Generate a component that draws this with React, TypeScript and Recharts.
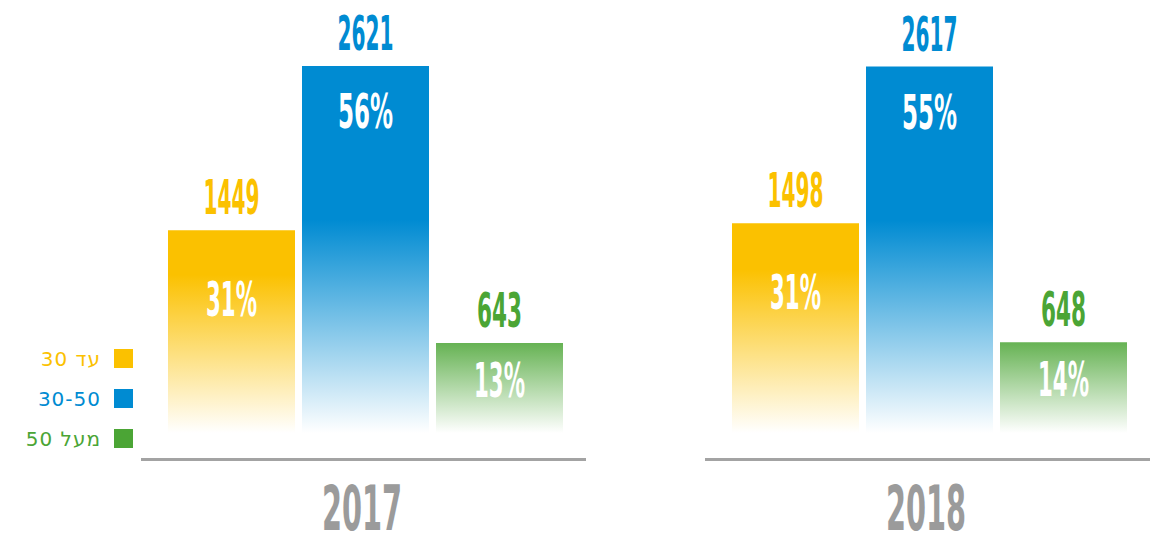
import React from 'react';
import { BarChart, Bar, XAxis, YAxis, LabelList } from 'recharts';

// ---- data ----
const years = ['2017', '2018'];
const seriesNames = ['עד 30', '30-50', 'מעל 50'];
const upTo30 = [1449, 1498];
const from30to50 = [2621, 2617];
const over50 = [643, 648];
const upTo30Pct = ['31%', '31%'];
const from30to50Pct = ['56%', '55%'];
const over50Pct = ['13%', '14%'];

// ---- style ----
const seriesKeys = ['upTo30', 'from30to50', 'over50'];
const colors = ['#FBC100', '#008BD2', '#4BA535'];
const gradStops = [
  [[0, 1], [0.22, 1], [1, 0]],
  [[0, 1], [0.42, 1], [1, 0]],
  [[0, 0.85], [1, 0]],
];
const pctOffset = [86, 62, 54];
const condensedFont = '"Liberation Sans Narrow", "DejaVu Sans Condensed", "Liberation Sans", sans-serif';

const textW = (s: string, k: number) =>
  s.split('').reduce((a, c) => a + (c === '1' ? 11 : c === '%' ? 25 : 15), 0) * k;

const rows = years.map((y, i) => ({
  year: y,
  upTo30: upTo30[i],
  from30to50: from30to50[i],
  over50: over50[i],
  upTo30Pct: upTo30Pct[i],
  from30to50Pct: from30to50Pct[i],
  over50Pct: over50Pct[i],
}));

const makeValueLabel = (color: string) => (props: any) => {
  const { x, y, width, value } = props;
  const cx = Number(x) + Number(width) / 2;
  const s = String(value);
  return (
    <text
      x={cx}
      y={Number(y) - 16}
      textAnchor="middle"
      fill={color}
      fontFamily={condensedFont}
      fontWeight="bold"
      fontSize={48}
      textLength={textW(s, 1)}
      lengthAdjust="spacingAndGlyphs"
    >
      {s}
    </text>
  );
};

const makePctLabel = (off: number) => (props: any) => {
  const { x, y, width, value } = props;
  const cx = Number(x) + Number(width) / 2;
  const s = String(value);
  return (
    <text
      x={cx}
      y={Number(y) + off}
      textAnchor="middle"
      fill="#FFFFFF"
      fontFamily={condensedFont}
      fontWeight="bold"
      fontSize={48}
      textLength={textW(s, 1)}
      lengthAdjust="spacingAndGlyphs"
    >
      {s}
    </text>
  );
};

const YearTick = (props: any) => {
  const { x, y, payload } = props;
  const s = String(payload.value);
  return (
    <g>
      <rect x={x - 224} y={y + 25} width={445} height={3} fill="#A3A3A3" />
      <text
        x={x - 3}
        y={y + 97}
        textAnchor="middle"
        fill="#9B9B9B"
        fontFamily={condensedFont}
        fontWeight="bold"
        fontSize={63}
        textLength={textW(s, 1.43)}
        lengthAdjust="spacingAndGlyphs"
      >
        {s}
      </text>
    </g>
  );
};

const YearChart = ({ idx, width, marginLeft }: { idx: number; width: number; marginLeft: number }) => (
  <BarChart
    width={width}
    height={545}
    data={[rows[idx]]}
    margin={{ top: 13, right: width - marginLeft - 444, left: marginLeft, bottom: 0 }}
    barSize={127}
    barGap={7}
  >
    <defs>
      {colors.map((c, si) => (
        <linearGradient key={si} id={`grad-${idx}-${si}`} x1="0" y1="0" x2="0" y2="1">
          {gradStops[si].map(([o, a], k) => (
            <stop key={k} offset={o} stopColor={c} stopOpacity={a} />
          ))}
        </linearGradient>
      ))}
    </defs>
    <XAxis
      dataKey="year"
      axisLine={false}
      tickLine={false}
      tickSize={0}
      tickMargin={0}
      height={112}
      interval={0}
      tick={<YearTick />}
    />
    <YAxis hide domain={[0, 3000]} />
    {seriesKeys.map((k, si) => (
      <Bar key={k} dataKey={k} fill={`url(#grad-${idx}-${si})`} isAnimationActive={false}>
        <LabelList dataKey={k} content={makeValueLabel(colors[si])} />
        <LabelList dataKey={`${k}Pct`} content={makePctLabel(pctOffset[si])} />
      </Bar>
    ))}
  </BarChart>
);

const LegendBox = () => (
  <svg width={150} height={130} style={{ position: 'absolute', left: 0, top: 330 }}>
    {seriesNames.map((n, i) => (
      <g key={i}>
        <rect x={114} y={19 + i * 40} width={19} height={19} fill={colors[i]} />
        <text
          x={101}
          y={36 + i * 40}
          textAnchor="end"
          fill={colors[i]}
          fontFamily='"DejaVu Sans", "Liberation Sans", sans-serif'
          fontSize={20}
          letterSpacing={1}
        >
          {n}
        </text>
      </g>
    ))}
  </svg>
);

export default function App() {
  return (
    <div style={{ position: 'absolute', left: 0, top: 0, width: 1163, height: 545, overflow: 'hidden', background: '#fff' }}>
      <div style={{ position: 'absolute', left: 0, top: 0 }}>
        <YearChart idx={0} width={600} marginLeft={143} />
      </div>
      <div style={{ position: 'absolute', left: 600, top: 0 }}>
        <YearChart idx={1} width={563} marginLeft={107} />
      </div>
      <LegendBox />
    </div>
  );
}
